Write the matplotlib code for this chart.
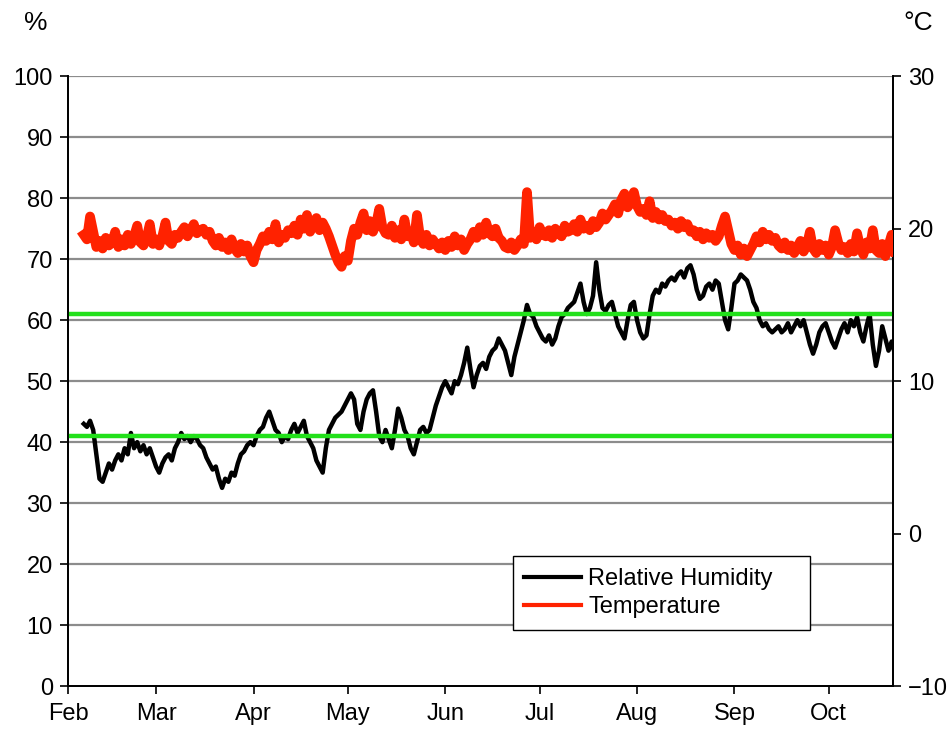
import datetime as dt

import matplotlib
matplotlib.use('Agg')
import matplotlib.pyplot as plt
import matplotlib.dates as mdates
import numpy as np
import pandas as pd

plt.rcParams['font.family'] = ['Liberation Sans', 'DejaVu Sans']

# daily readings, starting 6 Feb
start = dt.datetime(2013, 2, 6)

rh = [43, 42.5, 43.5, 42, 38, 34, 33.5, 35, 36.5, 35.5, 37, 38, 37, 39, 38, 41.5,
      39, 40, 38.5, 39.5, 38, 39, 37.5, 36, 35, 36.5, 37.5, 38, 37, 39, 40, 41.5,
      40.5, 41, 40, 41, 40.5, 39.5, 39, 37.5, 36.5, 35.5, 36, 34, 32.5, 34, 33.5,
      35, 34.5, 36.5, 38, 38.5, 39.5, 40, 39.5, 41, 42, 42.5, 44, 45, 43.5, 42,
      41.5, 40, 41, 40.5, 42, 43, 41.5, 42.5, 43.5, 41, 40, 39, 37, 36, 35, 39,
      42, 43, 44, 44.5, 45, 46, 47, 48, 47, 43, 42, 45, 47, 48, 48.5, 45, 41, 40,
      42, 40.5, 39, 42, 45.5, 44, 42, 41, 39, 38, 40, 42, 42.5, 41.5, 42, 44, 46,
      47.5, 49, 50, 49, 48, 50, 49.5, 51, 53, 55.5, 52, 49, 51, 52.5, 53, 52, 54,
      55, 55.5, 57, 56, 55, 53, 51, 54, 56, 58, 60, 62.5, 61, 60.5, 59, 58, 57,
      56.5, 57.5, 56, 57, 59, 60.5, 61, 62, 62.5, 63, 64.5, 66, 63, 61, 62, 64,
      69.5, 65, 62, 61.5, 62.5, 63, 61, 59, 58, 57, 60, 62.5, 63, 60, 58, 57,
      57.5, 61, 64, 65, 64.5, 66, 65.5, 66.5, 67, 66.5, 67.5, 68, 67, 68.5, 69,
      67.5, 65, 63.5, 64, 65.5, 66, 65, 66.5, 66, 63, 60, 58.5, 62, 66, 66.5,
      67.5, 67, 66.5, 65, 63, 62, 60, 59, 59.5, 58.5, 58, 58.5, 59, 58, 58.5,
      59.5, 58, 59, 60, 59, 60, 58, 56, 54.5, 56, 58, 59, 59.5, 58, 56.5, 55.5,
      57, 58.5, 59.5, 58, 60, 59, 60.5, 58, 56.5, 59, 61, 56, 52.5, 55, 59, 57,
      55, 56.5, 54.5]

temp = [19.6, 19.3, 20.8, 19.8,
        18.8, 19.2, 18.7, 19.4, 18.9, 19.1, 19.8, 18.8, 19.3, 18.9, 19.6,
        19.0, 19.5, 20.2, 19.1, 18.9, 19.4, 20.3, 19.0, 19.3, 18.9, 19.5, 20.4, 19.2, 19.0,
        19.6, 19.4, 19.8, 20.1, 19.5, 19.9, 20.3, 19.7, 19.9, 20.0, 19.6, 19.8,
        19.2, 18.9, 19.4, 18.8, 19.1, 18.6, 19.3, 18.7, 18.4, 19.0, 18.5, 18.9, 18.2, 17.8,
        18.6, 19.0, 19.5, 19.2, 19.8, 19.3, 20.3, 19.1, 19.6, 19.4, 19.9,
        19.7, 20.2, 19.6, 20.6, 20.0, 20.9, 19.8, 20.3, 20.7, 19.9, 20.4, 20.0, 19.5,
        18.9, 18.3, 17.8, 17.5, 18.2, 17.9,
        19.2, 20.0, 19.6, 20.4, 21.0, 19.9, 20.5, 19.8, 20.3, 21.3, 20.1, 19.7,
        19.6, 20.2, 19.4, 19.9, 19.3, 20.6, 19.5, 19.8, 19.1, 20.9, 19.4, 19.0, 19.6, 18.9, 19.3, 19.0,
        18.7, 19.1, 18.6, 19.2, 18.8, 19.5, 18.9, 19.3, 18.6, 19.0,
        19.3, 19.8, 19.4, 20.1, 19.6, 20.4, 19.7, 19.5, 20.0, 19.4,
        19.2, 18.8, 18.7, 19.1, 18.6, 18.9, 19.3, 19.0,
        22.4,
        19.4, 19.8, 19.3, 20.1, 19.6, 19.5, 19.9, 19.4, 20.0, 19.7, 19.5, 20.2, 19.8,
        19.9, 20.3, 19.8, 20.6, 20.0, 20.2, 19.9, 20.5, 20.1, 20.4, 21.0, 20.6, 20.9,
        21.2, 21.6, 21.0, 21.9, 22.3, 21.4, 21.7, 22.4, 21.5, 21.1,
        21.3, 20.9, 21.8, 20.7, 21.1, 20.6, 20.9, 20.5,
        20.6, 20.2, 20.4, 20.0, 20.5, 20.1, 20.3, 19.8,
        19.9, 19.5, 19.8, 19.3, 19.7, 19.4, 19.6, 19.2, 19.5,
        20.2, 20.8, 19.9,
        19.0, 18.6, 18.9, 18.3, 18.7, 18.2, 18.6,
        19.0, 19.5, 19.1, 19.8, 19.3, 19.6, 19.2, 19.4, 18.9,
        18.7, 19.1, 18.6, 18.9, 18.4, 18.8, 19.2, 18.5, 18.9, 19.8, 18.7, 18.4,
        19.0, 18.6, 18.9, 18.3, 18.8, 19.9, 19.1, 18.6, 18.8, 18.4, 19.0, 18.5,
        19.7, 18.8, 18.3, 19.1, 18.7, 19.9, 18.6, 18.4, 19.0, 18.2, 18.9, 19.6, 18.5]

limits_rh = [61, 41]

rh_dates = pd.date_range(start, periods=len(rh), freq='D')
temp_dates = pd.date_range(start, periods=len(temp), freq='D')

fig = plt.figure(figsize=(9.53, 7.33), dpi=100)
ax1 = fig.add_axes([0.0714, 0.064, 0.8656, 0.832])
ax2 = ax1.twinx()

#### grid and limit lines
for v in range(10, 101, 10):
    ax1.axhline(v, color='#8c8c8c', lw=1.6, zorder=1)
for v in limits_rh:
    ax1.axhline(v, color='#22e01a', lw=3.2, zorder=4)

#### data
l1, = ax1.plot(rh_dates, rh, color='black', lw=3.2, zorder=3, label='Relative Humidity')
l2, = ax2.plot(temp_dates, temp, color='#ff2200', lw=7.0, zorder=3, label='Temperature')

#### axes
ax1.set_xlim(dt.datetime(2013, 2, 1), dt.datetime(2013, 10, 21, 10))
ax1.set_ylim(0, 100)
ax2.set_ylim(-10, 30)
ax1.set_yticks(range(0, 101, 10))
ax2.set_yticks([-10, 0, 10, 20, 30])

ax1.xaxis.set_major_locator(mdates.MonthLocator())
ax1.xaxis.set_major_formatter(mdates.DateFormatter('%b'))

for ax in (ax1, ax2):
    ax.tick_params(direction='out', length=6, width=1.2, labelsize=17, colors='black')
    ax.spines['top'].set_visible(False)
    for s in ('left', 'right', 'bottom'):
        ax.spines[s].set_linewidth(1.3)
ax1.tick_params(axis='x', pad=6)
ax1.tick_params(axis='y', pad=5)
ax2.tick_params(axis='y', pad=5)

fig.text(0.037, 0.968, '%', fontsize=19, ha='center', va='center')
fig.text(0.963, 0.968, '°C', fontsize=19, ha='center', va='center')

#### legend
leg = ax2.legend(handles=[l1, l2], loc='lower left',
                 bbox_to_anchor=(0.539, 0.092, 0.361, 0.119), mode='expand',
                 borderaxespad=0, fontsize=17, fancybox=False, framealpha=1,
                 edgecolor='black', handlelength=2.4, handletextpad=0.3,
                 labelspacing=0.25, borderpad=0.5)
leg.get_frame().set_linewidth(1.0)
for h in leg.get_lines():
    h.set_linewidth(3)

fig.savefig('out.png', dpi=100)
